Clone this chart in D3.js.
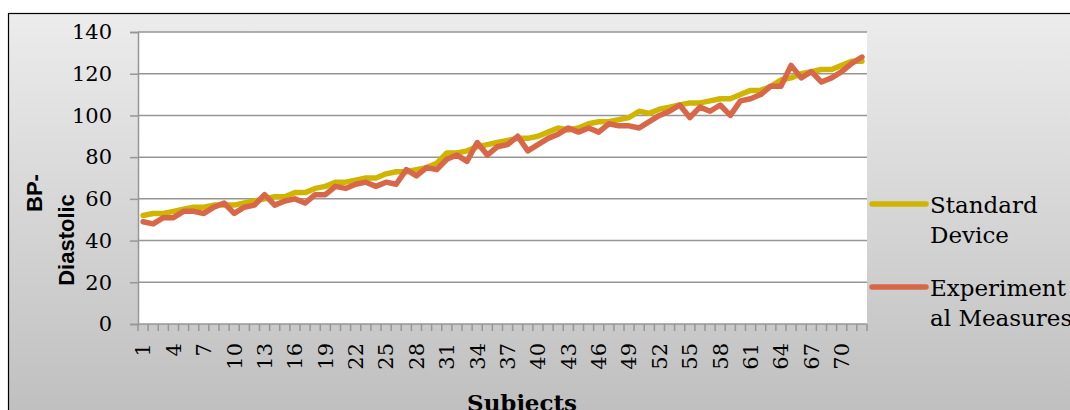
<!DOCTYPE html>
<html>
<head>
<meta charset="utf-8">
<script src="https://cdn.jsdelivr.net/npm/d3@7"></script>
<style>
  html, body { margin: 0; padding: 0; background: #ffffff; }
  svg { display: block; }
</style>
</head>
<body>
<svg id="chart" width="1070" height="410"></svg>
<script>
// ---- data ----
const subjects = d3.range(1, 73);
const standardDevice = [52,53,53,54,55,56,56,57,57,57,58,59,60,61,61,63,63,65,66,68,68,69,70,70,72,73,73,74,75,77,82,82,83,85,86,87,88,89,89,90,92,94,93,94,96,97,97,98,99,102,101,103,104,105,106,106,107,108,108,110,112,112,114,117,118,120,121,122,122,124,126,126];
const experimental = [49,48,51,51,54,54,53,56,58,53,56,57,62,57,59,60,58,62,62,66,65,67,68,66,68,67,74,71,75,74,79,81,78,87,81,85,86,90,83,86,89,91,94,92,94,92,96,95,95,94,97,100,102,105,99,104,102,105,100,107,108,110,114,114,124,118,121,116,118,121,125,128];
const yTicks = [0,20,40,60,80,100,120,140];
const seriesNames = ["Standard Device", "Experimental Measures"];
const legendLines = [["Standard", "Device"], ["Experiment", "al Measures"]];
const colors = ["#cfb500", "#d8674a"];

// ---- layout ----
const svg = d3.select("#chart");
const plot = {left: 138, right: 867, top: 32, bottom: 324};

const defs = svg.append("defs");
const grad = defs.append("linearGradient").attr("id", "bg").attr("x1", 0).attr("y1", 0).attr("x2", 0).attr("y2", 1);
grad.append("stop").attr("offset", "0%").attr("stop-color", "#ececec");
grad.append("stop").attr("offset", "100%").attr("stop-color", "#bdbdbd");

svg.append("rect").attr("x", 8.5).attr("y", 13.5).attr("width", 1080).attr("height", 420)
  .attr("fill", "url(#bg)").attr("stroke", "#000").attr("stroke-width", 1.2);

const x = d3.scaleBand().domain(subjects).range([plot.left, plot.right]).padding(0);
const y = d3.scaleLinear().domain([0, 140]).range([plot.bottom, plot.top]);
const cx = d => x(d) + x.bandwidth() / 2;

svg.append("rect").attr("x", plot.left).attr("y", plot.top)
  .attr("width", plot.right - plot.left).attr("height", plot.bottom - plot.top).attr("fill", "#fff");

// gridlines
svg.append("g").selectAll("line").data(yTicks.filter(t => t > 0)).join("line")
  .attr("x1", plot.left).attr("x2", plot.right)
  .attr("y1", d => y(d)).attr("y2", d => y(d))
  .attr("stroke", "#969696").attr("stroke-width", 1.5);

// y axis
const yAxis = d3.axisLeft(y).tickValues(yTicks).tickSize(8).tickPadding(18).tickFormat(d3.format("d"));
const gy = svg.append("g").attr("transform", `translate(${plot.left},0)`).call(yAxis);
gy.select(".domain").attr("stroke", "#969696").attr("stroke-width", 1.5);
gy.selectAll(".tick line").attr("stroke", "#969696").attr("stroke-width", 1.5);
gy.selectAll(".tick text").attr("font-family", "DejaVu Serif").attr("font-size", 21).attr("fill", "#000");

// x axis line and ticks
svg.append("line").attr("x1", plot.left).attr("x2", plot.right).attr("y1", plot.bottom).attr("y2", plot.bottom)
  .attr("stroke", "#969696").attr("stroke-width", 1.5);
const boundaries = subjects.map(d => x(d)).concat([x(subjects[subjects.length - 1]) + x.bandwidth()]);
svg.append("g").selectAll("line").data(boundaries).join("line")
  .attr("x1", d => d).attr("x2", d => d).attr("y1", plot.bottom).attr("y2", plot.bottom + 7)
  .attr("stroke", "#969696").attr("stroke-width", 1.5);

// x labels
svg.append("g").selectAll("text").data(subjects.filter(d => (d - 1) % 3 === 0)).join("text")
  .attr("transform", d => `translate(${cx(d)},343) rotate(-90)`)
  .attr("text-anchor", "end").attr("dy", "0.35em")
  .attr("font-family", "DejaVu Serif").attr("font-size", 21).attr("fill", "#000")
  .text(d => d);

// lines
const line = d3.line().x((d, i) => cx(subjects[i])).y(d => y(d));
[standardDevice, experimental].forEach((s, k) => {
  svg.append("path").datum(s).attr("d", line).attr("fill", "none")
    .attr("stroke", colors[k]).attr("stroke-width", 5.5)
    .attr("stroke-linejoin", "round").attr("stroke-linecap", "round");
});
// redraw standard on top? keep order: experimental drawn last as in reference

// legend
const legY = [204, 287];
legendLines.forEach((lines, k) => {
  svg.append("line").attr("x1", 872).attr("x2", 926).attr("y1", legY[k]).attr("y2", legY[k])
    .attr("stroke", colors[k]).attr("stroke-width", 5.5).attr("stroke-linecap", "round");
  const t = svg.append("text").attr("x", 930).attr("y", legY[k] + 9)
    .attr("font-family", "DejaVu Serif").attr("font-size", 23).attr("fill", "#000");
  lines.forEach((ln, j) => t.append("tspan").attr("x", 930).attr("dy", j === 0 ? 0 : 30).text(ln));
});

// axis titles
svg.append("text").attr("transform", "translate(42,193) rotate(-90)")
  .attr("text-anchor", "middle").attr("font-family", "Liberation Sans").attr("font-weight", "bold")
  .attr("font-size", 22).attr("fill", "#000").text("BP-");
svg.append("text").attr("transform", "translate(74,240) rotate(-90)")
  .attr("text-anchor", "middle").attr("font-family", "Liberation Sans").attr("font-weight", "bold")
  .attr("font-size", 22).attr("fill", "#000").text("Diastolic");
svg.append("text").attr("x", 522).attr("y", 411)
  .attr("text-anchor", "middle").attr("font-family", "DejaVu Serif").attr("font-weight", "bold")
  .attr("font-size", 23).attr("fill", "#000").text("Subjects");
</script>
</body>
</html>
